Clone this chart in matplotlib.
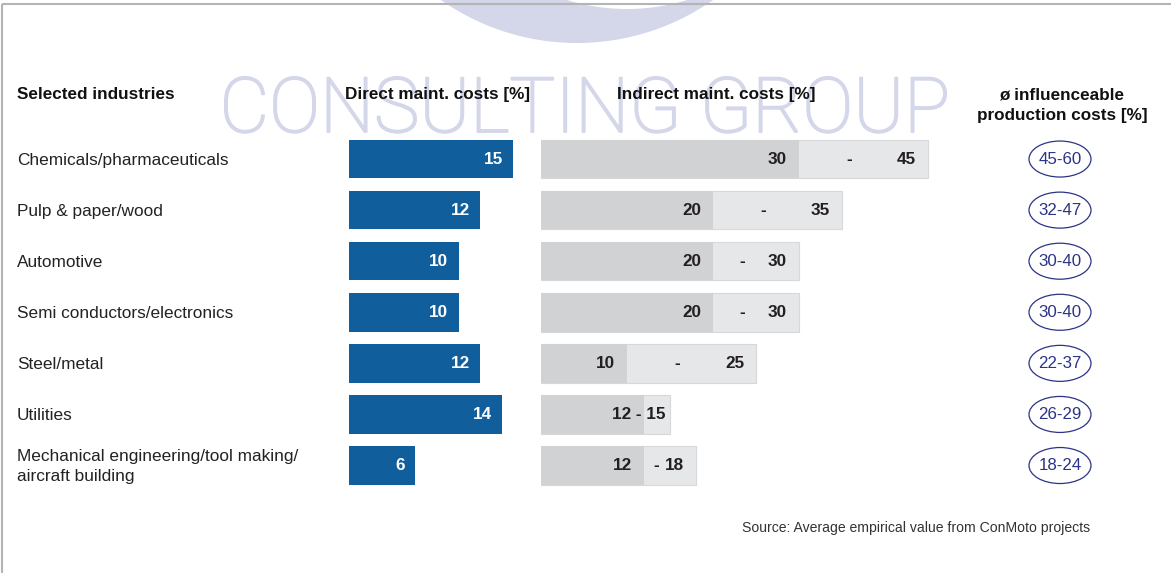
"""Maintenance cost share by industry: direct vs indirect maintenance costs,
plus influenceable production cost range."""
import matplotlib
matplotlib.use("Agg")
import matplotlib.pyplot as plt
import matplotlib.patheffects as pe
from matplotlib.patches import Circle, Ellipse
from matplotlib.transforms import blended_transform_factory

plt.rcParams["font.family"] = ["Liberation Sans", "DejaVu Sans"]

BLUE, DARK, LIGHT, EDGE = "#115e9c", "#d1d2d4", "#e6e7e9", "#d7d8da"
NAVY, LAV, INK, BORDER = "#2b3486", "#d4d6e9", "#231f20", "#b4b4b4"

industries = ["Chemicals/pharmaceuticals", "Pulp & paper/wood", "Automotive",
              "Semi conductors/electronics", "Steel/metal", "Utilities",
              "Mechanical engineering/tool making/\naircraft building"]
direct = [15, 12, 10, 10, 12, 14, 6]
indirect_lo = [30, 20, 20, 20, 10, 12, 12]
indirect_hi = [45, 35, 30, 30, 25, 15, 18]
influence = ["45-60", "32-47", "30-40", "30-40", "22-37", "26-29", "18-24"]

W, H = 1171, 573
fig = plt.figure(figsize=(W / 100, H / 100), dpi=100)
fig.patch.set_facecolor("white")

# background layer in pixel units: frame, watermark, headers
bg = fig.add_axes([0, 0, 1, 1])
bg.set_xlim(0, W)
bg.set_ylim(H, 0)
bg.axis("off")
bg.add_patch(Circle((577, -194), 237, color=LAV, lw=0, zorder=0))
bg.add_patch(Circle((627, -196), 205, color="white", lw=0, zorder=0.5))
bg.text(585, 132, "CONSULTING GROUP", fontsize=55, color=LAV,
        fontfamily=["Roboto", "Liberation Sans"], fontweight="light",
        ha="center", va="baseline", zorder=1,
        path_effects=[pe.withStroke(linewidth=1.4, foreground=LAV)])
bg.plot([2, W], [4, 4], color=BORDER, lw=1.5, zorder=3, solid_capstyle="butt")
bg.plot([2, 2], [4, H], color=BORDER, lw=1.5, zorder=3, solid_capstyle="butt")

hdr = dict(fontsize=12.3, fontweight="bold", color="#111111", va="baseline",
           zorder=4)
bg.text(17, 99, "Selected industries", ha="left", **hdr)
bg.text(345, 99, "Direct maint. costs [%]", ha="left", **hdr)
bg.text(617, 99, "Indirect maint. costs [%]", ha="left", **hdr)
bg.text(1062, 99, "ø influenceable", ha="center", **hdr)
bg.text(1062, 120, "production costs [%]", ha="center", **hdr)
bg.text(1090, 532, "Source: Average empirical value from ConMoto projects",
        fontsize=10.1, color="#333333", ha="right", va="baseline")

# bar panels
top, row_h = 133.5, 51.08
n = len(industries)
y0 = 1 - (top + n * row_h) / H
hgt = n * row_h / H
ax_d = fig.add_axes([349 / W, y0, (541 - 349) / W, hgt])
ax_i = fig.add_axes([541 / W, y0, (980 - 541) / W, hgt])
ax_e = fig.add_axes([1000 / W, y0, 120 / W, hgt])
ax_d.set_xlim(0, 192 / 10.95)
ax_i.set_xlim(0, 439 / 8.6)
ax_e.set_xlim(0, 120)
for ax in (ax_d, ax_i, ax_e):
    ax.set_ylim(n - 0.5, -0.5)
    ax.patch.set_alpha(0)
    ax.axis("off")

rows = list(range(n))
bh = 0.755
ax_d.barh(rows, direct, height=bh, color=BLUE, lw=0)
for i, v in enumerate(direct):
    ax_d.annotate(str(v), (v, i), xytext=(-7.2, 0), textcoords="offset points",
                  ha="right", va="center", fontsize=12.3, fontweight="bold",
                  color="white")

ax_i.barh(rows, indirect_hi, height=bh, color=LIGHT, edgecolor=EDGE, lw=0.8)
ax_i.barh(rows, indirect_lo, height=bh, color=DARK, lw=0)
lab = dict(va="center", fontsize=12.3, fontweight="bold", color=INK,
           textcoords="offset points")
for i, (lo, hi) in enumerate(zip(indirect_lo, indirect_hi)):
    if (hi - lo) * 8.6 < 40:
        ax_i.annotate(f"{lo} - {hi}", (hi, i), xytext=(-3, 0), ha="right", **lab)
    else:
        ax_i.annotate(str(lo), (lo, i), xytext=(-8.6, 0), ha="right", **lab)
        ax_i.annotate("-", ((lo + hi) / 2, i), xytext=(-10, 0), ha="center", **lab)
        ax_i.annotate(str(hi), (hi, i), xytext=(-8.6, 0), ha="right", **lab)

tr = blended_transform_factory(fig.transFigure, ax_d.transData)
for i, name in enumerate(industries):
    ax_d.text(17 / W, i + 0.02, name, transform=tr, ha="left", va="center",
              fontsize=12.4, color="#222222", linespacing=1.4, clip_on=False)

for i, txt in enumerate(influence):
    ax_e.add_patch(Ellipse((60, i), 62, 36 / row_h, fill=False,
                           edgecolor=NAVY, lw=0.9))
    ax_e.text(60, i, txt, ha="center", va="center", fontsize=12.2, color=NAVY)

fig.savefig("out.png", dpi=100, facecolor="white")
